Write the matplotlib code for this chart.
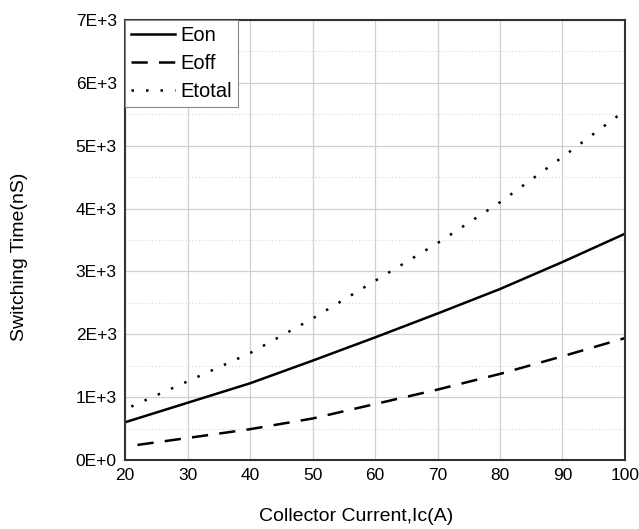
import matplotlib
matplotlib.use("Agg")
import matplotlib.pyplot as plt
from matplotlib.ticker import MultipleLocator

plt.rcParams["font.family"] = ["Liberation Sans", "DejaVu Sans"]

# values
x_eon = [20, 30, 40, 50, 60, 70, 80, 90, 100]
eon = [600, 910, 1220, 1580, 1950, 2330, 2720, 3150, 3600]
x_eoff = [22, 30, 40, 50, 60, 70, 80, 90, 100]
eoff = [240, 350, 490, 660, 890, 1120, 1370, 1650, 1940]
x_etot = [21, 30, 40, 50, 60, 70, 80, 90, 100]
etotal = [850, 1250, 1700, 2250, 2850, 3450, 4100, 4820, 5560]

x_ticks = [20, 30, 40, 50, 60, 70, 80, 90, 100]
y_ticks = [0, 1000, 2000, 3000, 4000, 5000, 6000, 7000]
y_labels = ["0E+0", "1E+3", "2E+3", "3E+3", "4E+3", "5E+3", "6E+3", "7E+3"]

fig = plt.figure(figsize=(6.39, 5.29), dpi=100)
ax = fig.add_axes([125 / 639, 1 - 460 / 529, 500 / 639, 440 / 529])

ax.plot(x_eon, eon, color="black", lw=1.8, ls="-", label="Eon")
ax.plot(x_eoff, eoff, color="black", lw=1.8, ls=(0, (6.5, 4.5)), label="Eoff")
ax.plot(x_etot, etotal, color="black", lw=1.8, ls=(0, (1, 4.8)), label="Etotal")

ax.set_xlim(20, 100)
ax.set_ylim(0, 7000)
ax.set_xticks(x_ticks)
ax.set_yticks(y_ticks)
ax.set_yticklabels(y_labels)
ax.yaxis.set_minor_locator(MultipleLocator(500))
ax.grid(which="major", color="#d0d0d0", lw=0.9)
ax.grid(which="minor", axis="y", color="#d8d8d8", lw=0.8, ls=(0, (1, 2)))
ax.tick_params(which="both", length=0, labelsize=12.5, pad=6)
for s in ax.spines.values():
    s.set_linewidth(1.5)
    s.set_color("#333333")

ax.set_xlabel("Collector Current,Ic(A)", fontsize=14)
ax.set_ylabel("Switching Time(nS)", fontsize=14)
# labels sit a bit off-centre in the reference
ax.xaxis.set_label_coords(0.462, -0.109)
ax.yaxis.set_label_coords(-0.194, 0.461)

leg = ax.legend(loc="upper left", fontsize=14.5, fancybox=False, framealpha=1,
                borderaxespad=0, handlelength=2.2, handletextpad=0.25,
                labelspacing=0.45, borderpad=0.3)
leg.get_frame().set_edgecolor("#888888")
leg.get_frame().set_linewidth(0.8)

fig.savefig("out.png", dpi=100)
